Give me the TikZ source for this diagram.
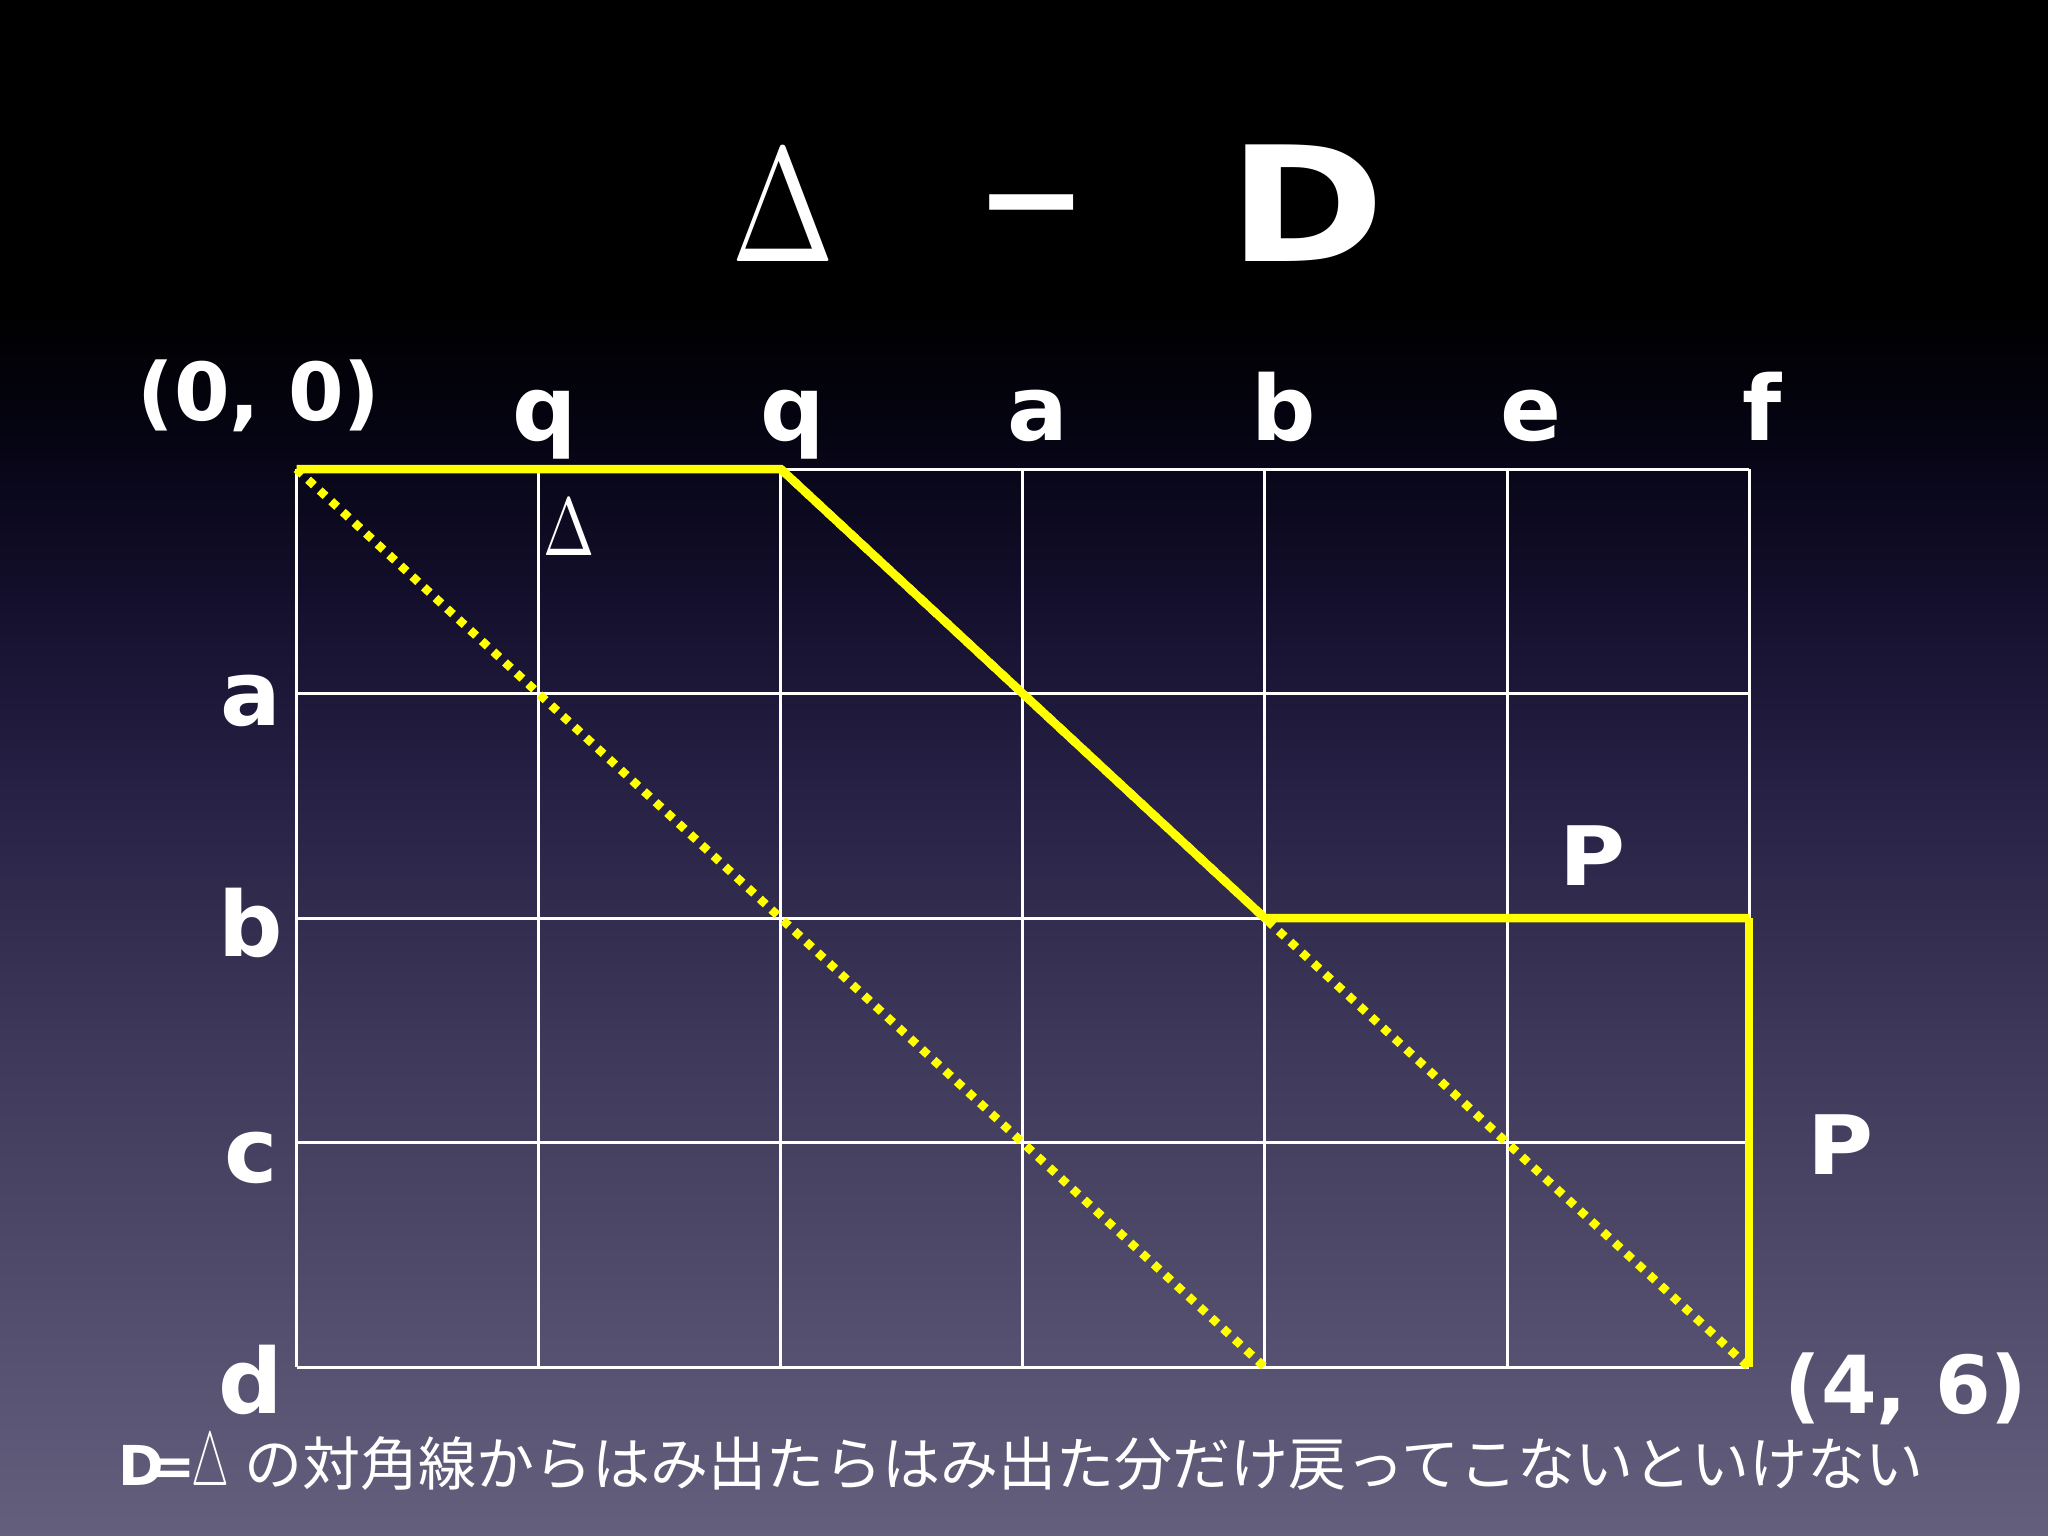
\documentclass[tikz,border=0pt]{standalone}
\usepackage{fontspec}
\usepackage{graphicx}
\newfontfamily\labfont{DejaVu Sans}
\newfontfamily\cjk{Noto Sans CJK JP}
\definecolor{hlyellow}{RGB}{255,255,0}
\definecolor{bgA}{RGB}{100,95,125}
\definecolor{bgB}{RGB}{82,77,108}
\definecolor{bgC}{RGB}{62,56,90}
\definecolor{bgD}{RGB}{38,32,68}
\definecolor{bgE}{RGB}{18,14,42}
\definecolor{bgF}{RGB}{5,4,18}
\pgfdeclareverticalshading{slidebg}{100bp}{color(0bp)=(bgA); color(25bp)=(bgA); color(32.5bp)=(bgB); color(41bp)=(bgC); color(49.5bp)=(bgD); color(56bp)=(bgE); color(61bp)=(bgF); color(65bp)=(black); color(100bp)=(black)}
\begin{document}
\begin{tikzpicture}[x=1pt,y=-1pt,
  gridline/.style={draw=white,line width=3pt},
  pathline/.style={draw=hlyellow,line width=8.5pt},
  dotline/.style={draw=hlyellow,line width=8.5pt,dash pattern=on 8pt off 7.8pt},
  lab/.style={text=white,inner sep=0pt,anchor=base,font=\labfont\bfseries\fontsize{90}{100}\selectfont},
  coord/.style={text=white,inner sep=0pt,anchor=base,font=\labfont\bfseries\fontsize{80}{90}\selectfont},
  plab/.style={text=white,inner sep=0pt,anchor=base,font=\labfont\bfseries\fontsize{82}{90}\selectfont},
  titlelab/.style={text=white,inner sep=0pt,anchor=base,font=\labfont\bfseries\fontsize{160}{170}\selectfont}]
\useasboundingbox (0,0) rectangle (2048,1536);
\shade[shading=slidebg] (0,0) rectangle (2048,1536);

% grid coordinates
\foreach \i in {0,...,6} {
  \foreach \j in {0,...,4} {
    \coordinate (g-\i-\j) at ({296.5+242.1*\i},{469+224.6*\j});
  }
}
\foreach \i in {0,...,6} \draw[gridline] (g-\i-0) -- (g-\i-4);
\foreach \j in {0,...,4} \draw[gridline] (g-0-\j) -- (g-6-\j);

% yellow paths
\draw[dotline] (g-0-0) -- (g-4-4);
\draw[dotline] (g-2-0) -- (g-6-4);
\draw[pathline] (g-0-0) -- (g-2-0) -- (g-4-2) -- (g-6-2);
\draw[pathline] (g-6-2) -- (g-6-4);

% title
\node[text=white,inner sep=0pt,anchor=base] (tdelta) at (783,261) {\scalebox{12.4}[16.25]{$\Delta$}};
\node[text=white,inner sep=0pt,anchor=center,font=\labfont\bfseries\fontsize{134}{140}\selectfont] (tminus) at (1032,220) {−};
\node[titlelab] (tD) at (1307,261) {\scalebox{1.18}[1]{D}};

% column labels
\node[lab] (cq1) at (545,440) {q};
\node[lab] (cq2) at (793,440) {q};
\node[lab] (ca) at (1038,440) {a};
\node[lab] (cb) at (1284,440) {b};
\node[lab] (ce) at (1531,440) {e};
\node[lab] (cf) at (1762,440) {f};

% row labels
\node[lab] (ra) at (251,725) {a};
\node[lab] (rb) at (251,956) {b};
\node[lab] (rc) at (251,1182) {c};
\node[lab] (rd) at (251,1413) {d};

% corner coordinates
\node[coord] (origin) at (259,420) {(0, 0)};
\node[coord] (endpt) at (1906,1413) {(4, 6)};

% small delta
\node[text=white,inner sep=0pt,anchor=base] (sdelta) at (569,555) {\scalebox{6.15}[8.2]{$\Delta$}};

% P labels
\node[plab] (p1) at (1593,885) {\scalebox{1.1}[1]{P}};
\node[plab] (p2) at (1841,1174) {\scalebox{1.1}[1]{P}};

% bottom note
\node[text=white,inner sep=0pt,anchor=base west] (note) at (118,1485)
  {\makebox[126pt][l]{\labfont\bfseries\fontsize{55}{60}\selectfont D\kern-14pt=\kern-4pt{\normalsize\scalebox{4.25}[7.6]{$\triangle$}}}\cjk\fontsize{58}{60}\selectfont の対角線からはみ出たらはみ出た分だけ戻ってこないといけない};
\end{tikzpicture}
\end{document}
